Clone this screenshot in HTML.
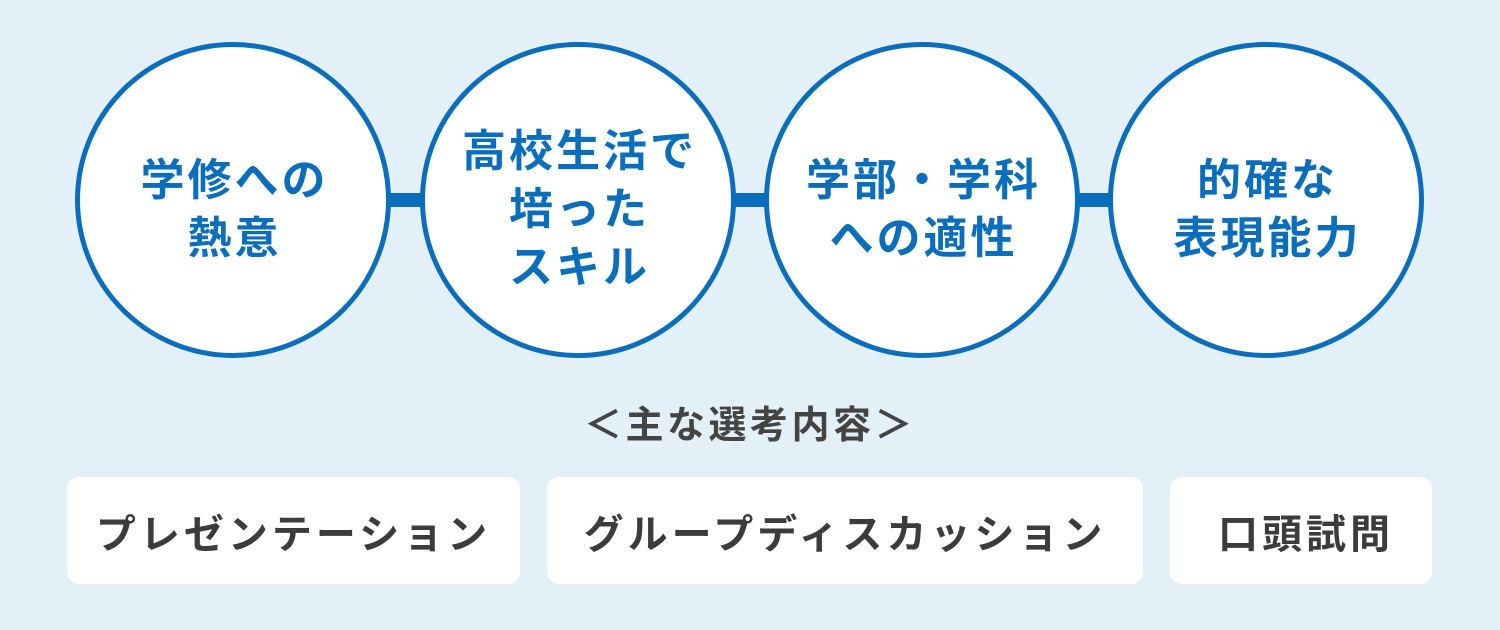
<!DOCTYPE html>
<html><head><meta charset="utf-8"><style>
body{margin:0;width:1500px;height:630px;background:#e3f0f8;position:relative;overflow:hidden;font-family:"Liberation Sans","Noto Sans CJK JP",sans-serif}
.c{position:absolute;top:42px;width:306px;height:306px;border:5px solid #0a6ebd;border-radius:50%;background:#fff;display:flex;align-items:center;justify-content:center;text-align:center;color:#0a6ebd;font-weight:bold;font-size:44px;line-height:58px;letter-spacing:3px;box-sizing:content-box}
.c span{display:block;margin-top:20px;margin-right:-3px}
.bar{position:absolute;top:193px;height:14px;background:#0a6ebd}
.t{position:absolute;top:402px;left:0;width:1500px;text-align:center;font-size:38px;font-weight:bold;color:#444;letter-spacing:3.5px;line-height:48px}
.b{position:absolute;top:477px;height:107px;background:#fff;border-radius:12px;display:flex;align-items:center;justify-content:center;font-size:40px;font-weight:bold;color:#3c3c3c;letter-spacing:4px}
</style></head><body>
<div class="bar" style="left:380px;width:60px"></div>
<div class="bar" style="left:725px;width:60px"></div>
<div class="bar" style="left:1070px;width:60px"></div>
<div class="c" style="left:75px"><span>学修への<br>熱意</span></div>
<div class="c" style="left:420px"><span>高校生活で<br>培った<br>スキル</span></div>
<div class="c" style="left:764px"><span>学部・学科<br>への適性</span></div>
<div class="c" style="left:1108px"><span>的確な<br>表現能力</span></div>
<div class="t">＜主な選考内容＞</div>
<div class="b" style="left:67px;width:453px">プレゼンテーション</div>
<div class="b" style="left:547px;width:596px">グループディスカッション</div>
<div class="b" style="left:1170px;width:262px;padding-left:10px;box-sizing:border-box">口頭試問</div>
</body></html>
